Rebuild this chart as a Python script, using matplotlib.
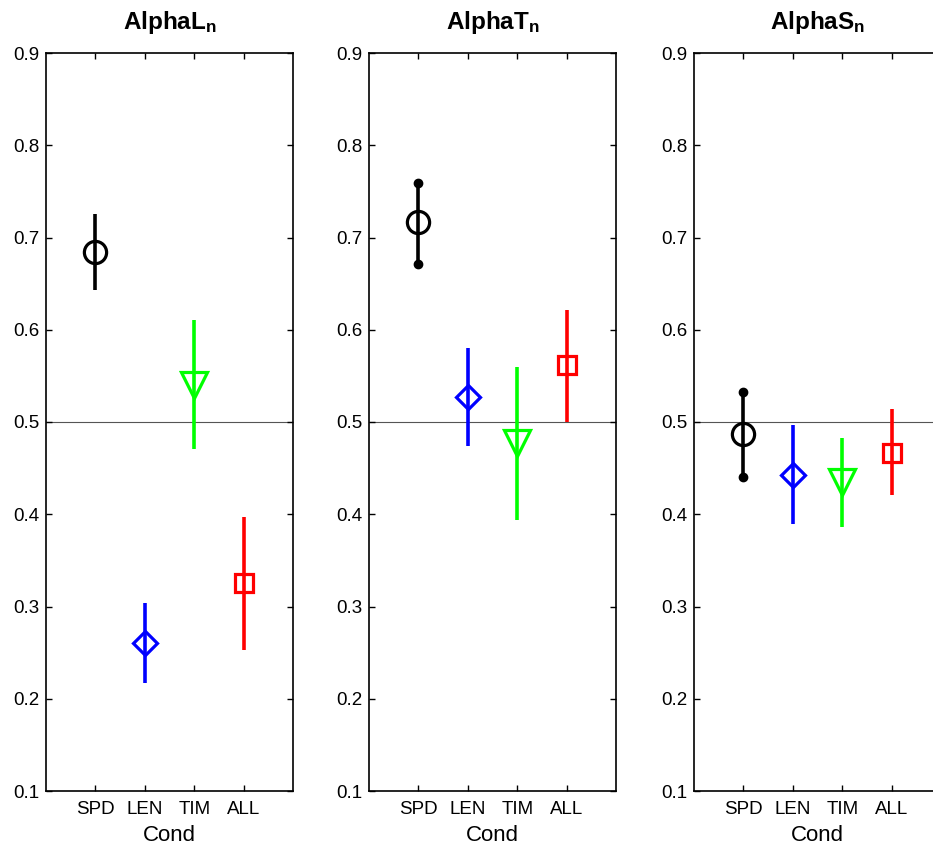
import matplotlib
matplotlib.use("Agg")
import matplotlib.pyplot as plt

plt.rcParams["font.family"] = ["Liberation Sans", "DejaVu Sans"]
plt.rcParams["mathtext.fontset"] = "custom"
plt.rcParams["mathtext.rm"] = "Liberation Sans"
plt.rcParams["mathtext.bf"] = "Liberation Sans:bold"

# ----------------- DATA -----------------
CONDS = ["SPD", "LEN", "TIM", "ALL"]
COLORS = ["#000000", "#0000ff", "#00ff00", "#ff0000"]
MARKERS = ["o", "D", "v", "s"]
MSIZES = [16, 12.5, 19, 13]

TITLES = [r"$\mathbf{AlphaL_n}$", r"$\mathbf{AlphaT_n}$", r"$\mathbf{AlphaS_n}$"]

MEANS = [
    [0.684, 0.260, 0.540, 0.325],
    [0.717, 0.527, 0.477, 0.562],
    [0.487, 0.443, 0.435, 0.466],
]
LOWER = [
    [0.643, 0.217, 0.471, 0.253],
    [0.671, 0.474, 0.394, 0.500],
    [0.440, 0.389, 0.386, 0.421],
]
UPPER = [
    [0.725, 0.304, 0.611, 0.397],
    [0.759, 0.580, 0.560, 0.621],
    [0.533, 0.497, 0.483, 0.514],
]
# panels where the SPD bar ends are drawn as dots
DOT_CAPS = [False, True, True]

YTICKS = [0.1, 0.2, 0.3, 0.4, 0.5, 0.6, 0.7, 0.8, 0.9]
REF_LINE = 0.5

# --------------- PLOT --------------------
fig = plt.figure(figsize=(9.33, 8.48), dpi=100)
lefts = [46 / 933, 369 / 933, 694 / 933]
bottom = 1 - 791 / 848
height = (791 - 53) / 848
width = 247 / 933

for p in range(3):
    ax = fig.add_axes([lefts[p], bottom, width, height])
    ax.axhline(REF_LINE, color="#555555", lw=0.8, zorder=1)
    for i in range(4):
        x = i + 1
        m = MEANS[p][i]
        lo, hi = LOWER[p][i], UPPER[p][i]
        ax.errorbar(x, m, yerr=[[m - lo], [hi - m]], fmt="none",
                    ecolor=COLORS[i], elinewidth=2.6, capsize=0, zorder=2)
        ax.plot(x, m, marker=MARKERS[i], ms=MSIZES[i], mfc="none",
                mec=COLORS[i], mew=2.3, ls="none", zorder=3)
        if i == 0 and DOT_CAPS[p]:
            ax.plot([x, x], [lo, hi], "o", color=COLORS[i], ms=6, zorder=3)

    ax.set_xlim(0, 5)
    ax.set_ylim(0.1, 0.9)
    ax.set_xticks(range(1, 5))
    ax.set_xticklabels(CONDS)
    ax.set_yticks(YTICKS)
    ax.set_yticklabels([f"{v:.1f}" for v in YTICKS])
    ax.tick_params(direction="in", length=4, width=1, top=True, right=True,
                   labelsize=13.5)
    ax.tick_params(axis="x", pad=7)
    ax.tick_params(axis="y", pad=5)
    for s in ax.spines.values():
        s.set_linewidth(1.2)
    ax.set_xlabel("Cond", fontsize=16, labelpad=5)
    ax.set_title(TITLES[p], fontsize=17.5, pad=17)

fig.savefig("out.png", dpi=100)
